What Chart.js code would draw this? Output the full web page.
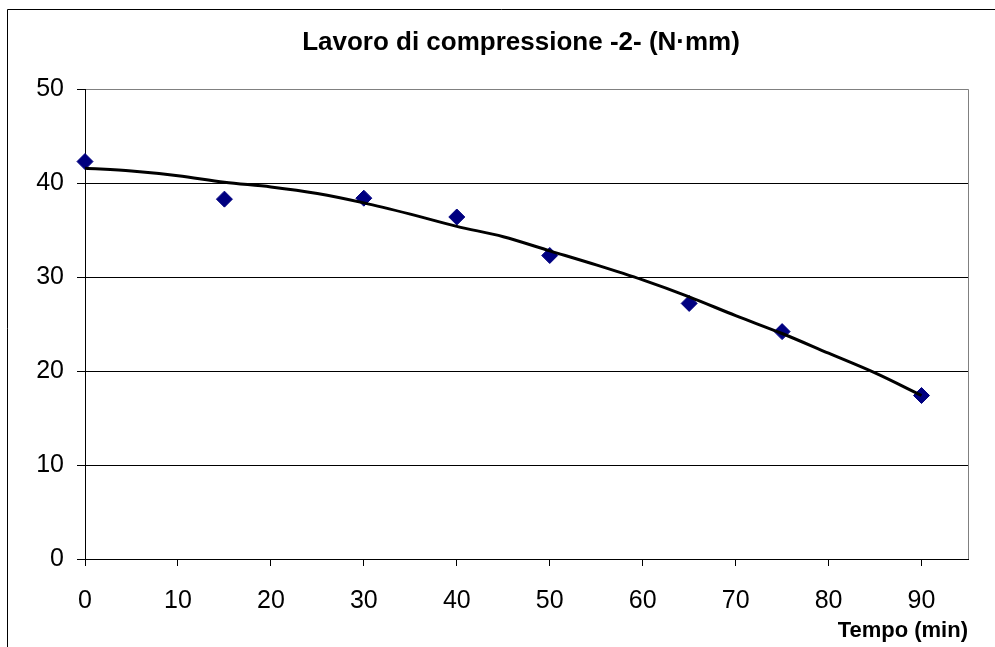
<!DOCTYPE html>
<html>
<head>
<meta charset="utf-8">
<script src="https://cdn.jsdelivr.net/npm/chart.js@4.4.1/dist/chart.umd.min.js"></script>
<style>
  html, body { margin: 0; padding: 0; background: #fff; }
  #c { display: block; }
</style>
</head>
<body>
<canvas id="c" width="995" height="647"></canvas>
<script>
// ---- data ----
const chartTitle = 'Lavoro di compressione -2- (N·mm)';
const xAxisTitle = 'Tempo (min)';
const timeMin = [0, 15, 30, 40, 50, 65, 75, 90];
const lavoro = [42.3, 38.3, 38.4, 36.4, 32.3, 27.2, 24.2, 17.4];
const trendTime = [0, 5, 10, 15, 20, 25, 30, 35, 40, 45, 50, 55, 60, 65, 70, 75, 80, 85, 90];
const trendValues = [41.6, 41.3, 40.8, 40.1, 39.6, 38.9, 37.9, 36.7, 35.4, 34.3, 32.8, 31.3, 29.7, 27.9, 25.9, 24.0, 21.9, 19.8, 17.4];
const xTicks = [0, 10, 20, 30, 40, 50, 60, 70, 80, 90];
const yTicks = [0, 10, 20, 30, 40, 50];

const FONT = '"Liberation Sans", Arial, sans-serif';

const framePlugin = {
  id: 'frame',
  afterLayout(chart) {
    // center the title over the plot area, like the reference
    if (chart.titleBlock) {
      chart.titleBlock.left = 74;
    }
  },
  afterDraw(chart) {
    const ctx = chart.ctx;
    const a = chart.chartArea;
    ctx.save();
    // gray right border of plot area
    ctx.strokeStyle = '#808080';
    ctx.lineWidth = 1;
    ctx.beginPath();
    ctx.moveTo(Math.round(a.right) + 0.5, a.top);
    ctx.lineTo(Math.round(a.right) + 0.5, a.bottom);
    ctx.stroke();
    // outer chart frame (cropped at right and bottom)
    ctx.strokeStyle = '#000';
    ctx.beginPath();
    ctx.moveTo(7.5, 700);
    ctx.lineTo(7.5, 9.5);
    ctx.lineTo(1000, 9.5);
    ctx.stroke();
    ctx.restore();
  }
};

new Chart(document.getElementById('c'), {
  type: 'scatter',
  data: {
    datasets: [
      {
        label: 'trend',
        data: trendTime.map((t, i) => ({ x: t, y: trendValues[i] })),
        showLine: true,
        borderColor: '#000',
        borderWidth: 3,
        pointRadius: 0,
        cubicInterpolationMode: 'monotone',
        fill: false
      },
      {
        label: 'Lavoro',
        data: timeMin.map((t, i) => ({ x: t, y: lavoro[i] })),
        pointStyle: 'rectRot',
        pointRadius: 8,
        backgroundColor: '#000080',
        borderColor: '#000080',
        borderWidth: 1,
        clip: false
      }
    ]
  },
  options: {
    responsive: false,
    animation: false,
    devicePixelRatio: 1,
    layout: { padding: { left: 0, right: 27, top: 0, bottom: 0 } },
    plugins: {
      legend: { display: false },
      tooltip: { enabled: false },
      title: {
        display: true,
        text: chartTitle,
        color: '#000',
        font: { family: FONT, size: 26, weight: 'bold' },
        padding: { top: 27, bottom: 31 }
      }
    },
    scales: {
      x: {
        type: 'linear',
        min: 0,
        max: 95,
        afterBuildTicks(scale) {
          scale.ticks = xTicks.map(v => ({ value: v }));
        },
        afterFit(scale) { scale.height = 88; },
        ticks: {
          color: '#000',
          font: { family: FONT, size: 25 },
          padding: 20,
          maxRotation: 0,
          autoSkip: false
        },
        grid: {
          drawOnChartArea: false,
          drawTicks: true,
          tickLength: 7,
          tickColor: '#000'
        },
        border: { display: true, color: '#000', width: 1 },
        title: {
          display: true,
          text: xAxisTitle,
          align: 'end',
          color: '#000',
          font: { family: FONT, size: 22, weight: 'bold' },
          padding: { top: 0, bottom: 3 }
        }
      },
      y: {
        type: 'linear',
        min: 0,
        max: 50,
        afterBuildTicks(scale) {
          scale.ticks = yTicks.map(v => ({ value: v }));
        },
        afterFit(scale) { scale.width = 85; },
        ticks: {
          color: '#000',
          font: { family: FONT, size: 25 },
          padding: 13
        },
        grid: {
          drawOnChartArea: true,
          drawTicks: true,
          tickLength: 8,
          tickColor: '#000',
          color: (c) => (c.tick && c.tick.value === 50 ? '#808080' : '#000'),
          lineWidth: 1
        },
        border: { display: true, color: '#000', width: 1 }
      }
    }
  },
  plugins: [framePlugin]
});
</script>
</body>
</html>
